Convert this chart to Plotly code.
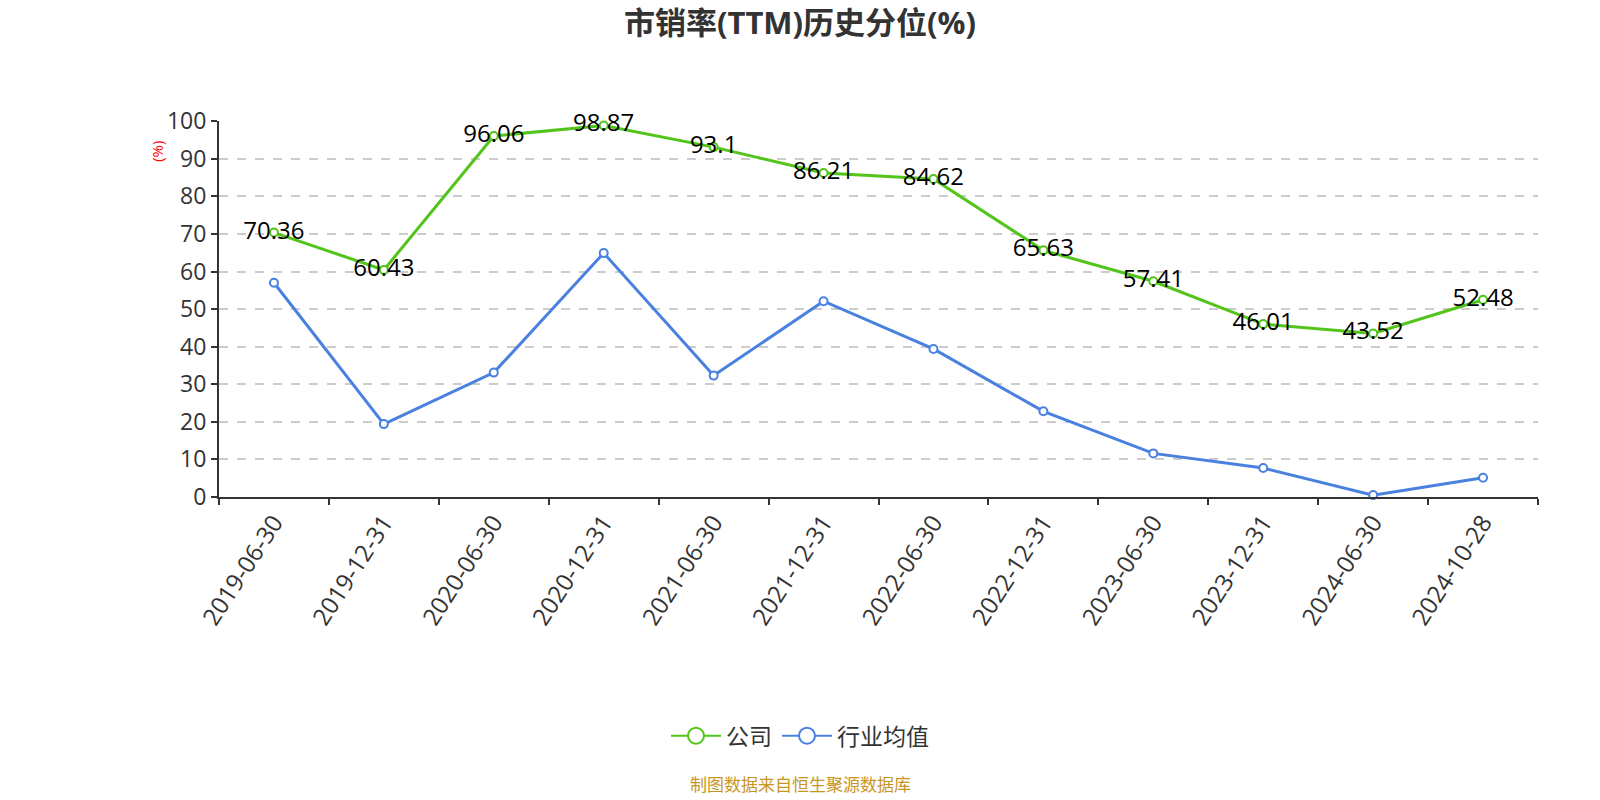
import plotly.graph_objects as go

dates = ["2019-06-30", "2019-12-31", "2020-06-30", "2020-12-31", "2021-06-30", "2021-12-31",
         "2022-06-30", "2022-12-31", "2023-06-30", "2023-12-31", "2024-06-30", "2024-10-28"]
company = [70.36, 60.43, 96.06, 98.87, 93.1, 86.21, 84.62, 65.63, 57.41, 46.01, 43.52, 52.48]
industry = [57.0, 19.4, 33.1, 64.9, 32.3, 52.1, 39.4, 22.8, 11.6, 7.7, 0.5, 5.1]
company_labels = ["70.36", "60.43", "96.06", "98.87", "93.1", "86.21", "84.62", "65.63", "57.41", "46.01", "43.52", "52.48"]
series_names = ["公司", "行业均值"]

GREEN = "#52C41A"
BLUE = "#4A80E0"
FONT = "Open Sans, Noto Sans CJK SC"
CJK = "Noto Sans CJK SC"

fig = go.Figure()
fig.add_trace(go.Scatter(
    x=dates, y=industry, name=series_names[1], mode="lines+markers", showlegend=False,
    line=dict(color=BLUE, width=3),
    marker=dict(symbol="circle", size=8, color="#ffffff", line=dict(color=BLUE, width=2)),
    cliponaxis=False,
))
fig.add_trace(go.Scatter(
    x=dates, y=company, name=series_names[0], mode="lines+markers+text", showlegend=False,
    text=company_labels, textposition="middle center",
    textfont=dict(size=24, color="#000000", family=FONT),
    line=dict(color=GREEN, width=3),
    marker=dict(symbol="circle", size=8, color="#ffffff", line=dict(color=GREEN, width=2)),
    cliponaxis=False,
))
# legend-only entries (larger symbols like the reference legend)
for nm, col in [(series_names[0], GREEN), (series_names[1], BLUE)]:
    fig.add_trace(go.Scatter(
        x=[None], y=[None], name=nm, mode="lines+markers",
        line=dict(color=col, width=2),
        marker=dict(symbol="circle", size=16, color="#ffffff", line=dict(color=col, width=2)),
    ))

fig.update_layout(
    width=1600, height=800,
    paper_bgcolor="#ffffff", plot_bgcolor="#ffffff",
    margin=dict(l=219, r=62, t=121, b=303),
    font=dict(family=FONT, color="#333333"),
    title=dict(text="<b>市销率(TTM)历史分位(%)</b>", x=0.5, xanchor="center",
               y=1 - 23 / 800, yanchor="middle", yref="container",
               font=dict(size=31, color="#333333", family=FONT)),
    showlegend=True,
    legend=dict(orientation="h", x=(800 - 219) / 1319, xanchor="center", y=-0.635, yanchor="middle",
                font=dict(size=23, color="#333333", family=CJK), itemwidth=50),
    xaxis=dict(
        type="category", categoryorder="array", categoryarray=dates,
        showline=True, linecolor="#333333", linewidth=2,
        ticks="outside", ticklen=6, tickcolor="#333333", tickwidth=2,
        tickson="boundaries", showgrid=False,
        tickangle=-57, tickfont=dict(size=24, color="#333333", family=FONT),
        range=[-0.5, 11.5],
    ),
    yaxis=dict(
        range=[0, 100.05], dtick=10, tick0=0,
        showline=True, linecolor="#333333", linewidth=2,
        ticks="outside", ticklen=6, tickcolor="#333333", tickwidth=2,
        showgrid=True, gridcolor="#cccccc", griddash="dash", gridwidth=1.5,
        zeroline=False,
        tickfont=dict(size=23, color="#333333", family=FONT),
    ),
    annotations=[
        dict(text="(%)", xref="paper", yref="paper", x=-0.047, y=0.918, textangle=-90,
             showarrow=False, font=dict(size=15, color="#ff0000", family=FONT),
             xanchor="center", yanchor="middle"),
        dict(text="制图数据来自恒生聚源数据库", xref="paper", yref="paper", x=(800 - 219) / 1319, y=-0.762,
             showarrow=False, font=dict(size=17, color="#C8961E", family=CJK),
             xanchor="center", yanchor="middle"),
    ],
)

fig.write_html("out.html")
